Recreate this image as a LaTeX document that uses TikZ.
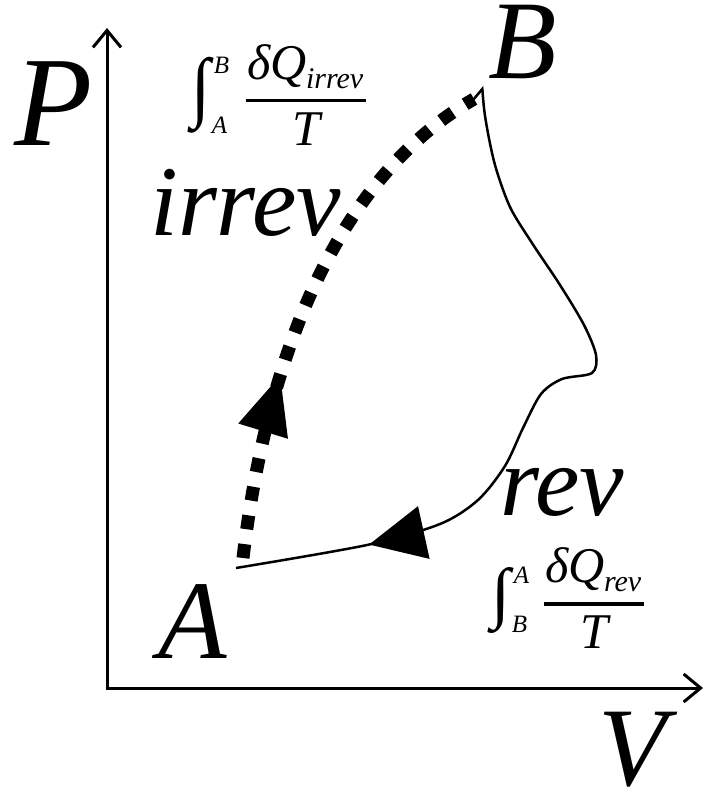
\documentclass[tikz,border=0pt]{standalone}
\usepackage{fontspec}
\setmainfont{Liberation Serif}
\usetikzlibrary{arrows.meta,positioning,decorations.markings}
\newcommand{\fsz}[1]{\fontsize{#1}{#1}\selectfont}
\newcommand{\dqfrac}[1]{\fsz{50}$\displaystyle{\hbox{\itshape\kern2pt δ\kern-1pt Q\raisebox{-9pt}{\fsz{30}#1}\kern3pt}\above 3.5pt\hbox{\itshape T}}$}
\newcommand{\intglyph}[1]{\resizebox*{19pt}{#1}{∫}}
\tikzset{
  axis/.style={line width=3pt, {Straight Barb[length=17pt,width=28pt]}-{Straight Barb[length=17pt,width=28pt]}},
  biglab/.style={font=\fsz{112}\itshape, anchor=base west, inner sep=0pt},
  pathlab/.style={font=\fsz{100}\itshape, anchor=base west, inner sep=0pt},
  limlab/.style={font=\fsz{25}\itshape, inner sep=0pt},
  intsign/.style={inner sep=0pt},
  fracnode/.style={inner sep=0pt},
  irrevpath/.style={line width=13pt, dash pattern=on 14pt off 15pt,
    postaction={decorate, decoration={markings,
      mark=at position 0.35 with {\arrow{Triangle[length=58pt,width=52pt,line width=0pt]}}}}},
  revpath/.style={line width=2.5pt, {Straight Barb[harpoon,length=10pt,width=20pt]}-,
    postaction={decorate, decoration={markings,
      mark=at position 0.82 with {\arrow{Triangle[length=56pt,width=54pt,line width=0pt]}}}}},
}

\begin{document}
\begin{tikzpicture}[x=1pt, y=-1pt]
\useasboundingbox (0,0) rectangle (706,792);
% axes
\coordinate (origin) at (107,688);
\coordinate (ytip) at (107,28);
\coordinate (xtip) at (703,688);
\draw[axis] (ytip) -- (origin) -- (xtip);
\node[biglab, font=\fsz{128}\itshape] (Plabel) at (14,145) {P};
\node[biglab] (Vlabel) at (598,785) {V};
% states
\node[biglab] (Alabel) at (158,658) {A};
\node[biglab] (Blabel) at (488,78) {B};
\coordinate (start) at (236,568);
\coordinate (irrevstart) at (243,558);
\coordinate (finish) at (482,86);
\coordinate (irrevend) at (474,99);
% irreversible path
\draw[irrevpath] (irrevstart) .. controls (270,330) and (350,170) .. (irrevend);
\node[pathlab] (irrevlabel) at (150,235) {irrev};
% reversible path
\draw[revpath] plot[smooth] coordinates {(finish) (486,122) (495,165) (510,207) (532,243)
  (560,285) (584,325) (596,355) (592,373) (562,379) (541,394) (523,428) (505,466)
  (478,500) (440,524) (367,545) (start)};
\node[pathlab] (revlabel) at (500,515) {rev};
% integrals
\node[intsign] (irrevint) at (201,95) {\intglyph{76pt}};
\node[limlab, below right=0pt and 3pt of irrevint.north east] (irrevup) {B};
\node[limlab, above right=0pt and 1pt of irrevint.south east] (irrevlow) {A};
\node[fracnode] (irrevfrac) at (306,95) {\dqfrac{irrev}};
\node[intsign] (revint) at (501,600) {\intglyph{66pt}};
\node[limlab, below right=0pt and 3pt of revint.north east] (revup) {A};
\node[limlab, above right=0pt and 1pt of revint.south east] (revlow) {B};
\node[fracnode] (revfrac) at (594,598) {\dqfrac{rev}};
\end{tikzpicture}
\end{document}
